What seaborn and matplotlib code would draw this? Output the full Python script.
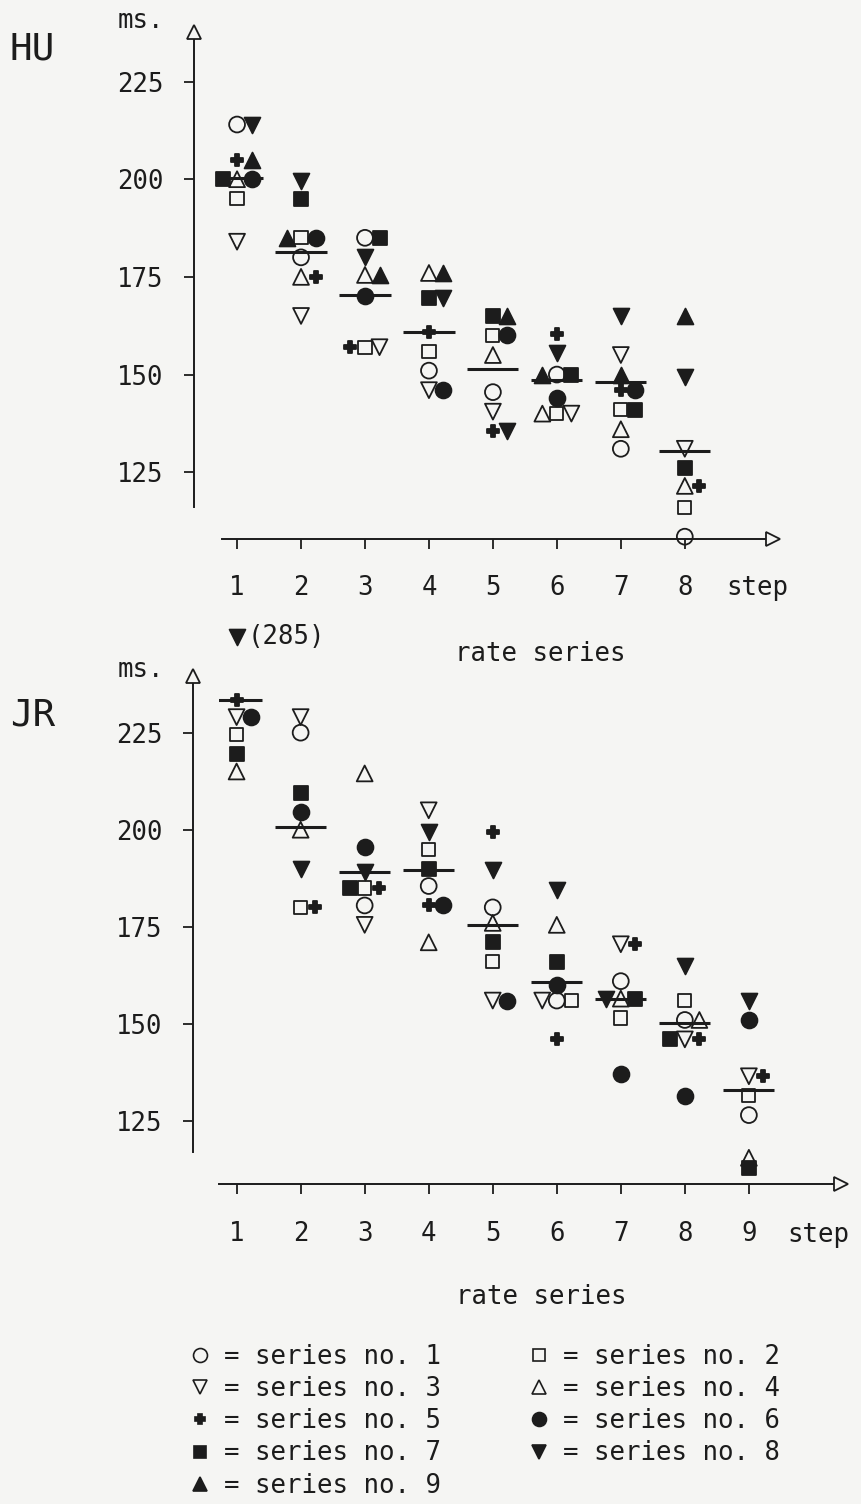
import numpy as np
import pandas as pd
import matplotlib
matplotlib.use("Agg")
import matplotlib.pyplot as plt
from matplotlib.lines import Line2D
import seaborn as sns

# ---------------- data: durations in ms per step of each rate series ----------------
series_ids = [1, 2, 3, 4, 5, 6, 7, 8, 9]

hu_steps = [1, 2, 3, 4, 5, 6, 7, 8]
hu_s1 = [214, 180, 185, 151, 145.5, 150, 131, 108.5]
hu_s2 = [195, 185, 157, 156, 160, 140, 141, 116]
hu_s3 = [184, 165, 157, 146, 140.5, 140, 155, 131]
hu_s4 = [200, 175, 175.5, 176, 155, 140, 136, 121.5]
hu_s5 = [205, 175, 157, 161, 135.5, 160.5, 146, 121.5]
hu_s6 = [200, 185, 170, 146, 160, 144, 146, None]
hu_s7 = [200, 195, 185, 169.5, 165, 150, 141, 126]
hu_s8 = [214, 199.5, 180, 169.5, 135.5, 155.5, 165, 149.5]
hu_s9 = [205, 185, 175.5, 176, 165, 150, 150, 165]
hu_means = [200.2, 181.3, 170.4, 160.9, 151.3, 148.5, 148.0, 130.4]

jr_steps = [1, 2, 3, 4, 5, 6, 7, 8, 9]
jr_s1 = [None, 225, 180.5, 185.5, 180, 156, 161, 151, 126.5]
jr_s2 = [224.5, 180, 185, 195, 166, 156, 151.5, 156, 131.5]
jr_s3 = [229, 229, 175.5, 205, 156, 156, 170.5, 146, 136.5]
jr_s4 = [215, 200, 214.5, 171, 176, 175.5, 156.5, 151, 115.5]
jr_s5 = [233.5, 180, 185, 180.5, 199.5, 146, 170.5, 146, 136.5]
jr_s6 = [229, 204.5, 195.5, 180.5, 156, 160, 137, 131.5, 151]
jr_s7 = [219.5, 209.5, 185, 190, 171, 166, 156.5, 146, 113]
jr_s8 = [285, 190, 189, 199.5, 189.5, 184.5, 156.5, 165, 156]
jr_s9 = [None] * 9
jr_means = [233.4, 200.6, 189.0, 189.6, 175.4, 160.8, 156.5, 150.1, 132.9]

y_ticks = [125, 150, 175, 200, 225]
legend_order = [1, 3, 5, 7, 9, 2, 4, 6, 8]

# ---------------- styling ----------------
INK = "#1c1c1c"
BG = "#f5f5f3"
MARKERS = {1: ("o", False), 2: ("s", False), 3: ("v", False), 4: ("^", False),
           5: ("P", True), 6: ("o", True), 7: ("s", True), 8: ("v", True),
           9: ("^", True)}
SIZES = {"o": 130, "s": 90, "v": 130, "^": 130, "P": 80}
DODGE = 0.227              # horizontal spacing of tied values, in steps
SLOTS = [0, 1, -1, 2, -2]  # placement order of tied values
MEAN_HALF = 0.40
FS = 18.5

sns.set_style("ticks")
plt.rcParams["font.family"] = ["DejaVu Sans Mono"]
plt.rcParams["text.color"] = INK
plt.rcParams["axes.edgecolor"] = INK
plt.rcParams["xtick.color"] = INK
plt.rcParams["ytick.color"] = INK


def long_table(steps, cols):
    rows = []
    for sid, vals in zip(series_ids, cols):
        for st, v in zip(steps, vals):
            if v is not None:
                rows.append({"step": st, "series": sid, "value": float(v)})
    df = pd.DataFrame(rows)
    # spread tied values side by side
    df["slot"] = 0
    for (_, _), g in df.groupby(["step", "value"]):
        for k, idx in enumerate(g.sort_values("series").index):
            df.loc[idx, "slot"] = SLOTS[k]
    df["x"] = df["step"] + df["slot"] * DODGE
    return df


hu = long_table(hu_steps, [hu_s1, hu_s2, hu_s3, hu_s4, hu_s5, hu_s6, hu_s7, hu_s8, hu_s9])
jr = long_table(jr_steps, [jr_s1, jr_s2, jr_s3, jr_s4, jr_s5, jr_s6, jr_s7, jr_s8, jr_s9])

fig = plt.figure(figsize=(8.61, 15.04), dpi=100)
fig.patch.set_facecolor(BG)
FW, FH = 861, 1504

ax_hu = fig.add_axes([0.2575, 0.6629, 0.6322, 0.3112])
ax_jr = fig.add_axes([0.2547, 0.2338, 0.7140, 0.3121])


def draw_panel(ax, df, steps, means, xlim, ylim, offscale_y):
    ax.set_facecolor("none")
    ax.set_xlim(*xlim)
    ax.set_ylim(*ylim)
    df = df.copy()
    df["y"] = np.where(df["value"] > ylim[1], offscale_y, df["value"])
    for sid in series_ids:
        sub = df[df["series"] == sid]
        if sub.empty:
            continue
        m, filled = MARKERS[sid]
        sns.scatterplot(data=sub, x="x", y="y", ax=ax, marker=m, s=SIZES[m],
                        facecolor=INK if filled else "none", edgecolor=INK,
                        linewidth=1.3, clip_on=False, legend=False, zorder=3)
    st = np.asarray(steps, dtype=float)
    ax.hlines(means, st - MEAN_HALF, st + MEAN_HALF, color=INK, lw=2.2, zorder=4)
    # out-of-range values get their number written beside the marker
    for _, r in df[df["value"] > ylim[1]].iterrows():
        ax.annotate(f"({r['value']:.0f})", (r["x"], r["y"]), xytext=(8, 0),
                    textcoords="offset points", va="center", ha="left",
                    fontsize=FS, annotation_clip=False)
    ax.set_xticks(steps)
    ax.set_xticklabels([str(s) for s in steps])
    ax.set_yticks(y_ticks)
    ax.set_yticklabels([str(t) for t in y_ticks])
    ax.set_xlabel("")
    ax.set_ylabel("")
    ax.tick_params(axis="both", length=7.2, width=1.3, labelsize=FS)
    ax.tick_params(axis="x", pad=19)
    ax.tick_params(axis="y", pad=15)


def detach_spines(ax, left_px, bottom_px):
    sns.despine(ax=ax)
    pos = ax.get_position()
    w_px, h_px = pos.width * FW, pos.height * FH
    xl, yb = -left_px / w_px, -bottom_px / h_px
    ax.spines["left"].set_position(("axes", xl))
    ax.spines["bottom"].set_position(("axes", yb))
    for s in ("left", "bottom"):
        ax.spines[s].set_linewidth(1.4)
    arrow = dict(ms=10, mfc=BG, mec=INK, mew=1.3, clip_on=False,
                 transform=ax.transAxes, zorder=5)
    ax.plot([xl], [1 + 7 / h_px], marker="^", **arrow)
    ax.plot([1 + 7 / w_px], [yb], marker=">", **arrow)


draw_panel(ax_hu, hu, hu_steps, hu_means, (0.76, 9.27), (116.1, 235.9), None)
draw_panel(ax_jr, jr, jr_steps, jr_means, (0.73, 10.33), (116.9, 237.8), 249.6)
detach_spines(ax_hu, 27.7, 32)
detach_spines(ax_jr, 26.3, 32)


def ftext(x_px, y_px, s, **kw):
    fig.text(x_px / FW, 1 - y_px / FH, s, **kw)


ftext(32, 50, "HU", fontsize=27, ha="center", va="center")
ftext(33, 716, "JR", fontsize=27, ha="center", va="center")
ftext(118, 28, "ms.", fontsize=FS, ha="left", va="baseline")
ftext(118, 677, "ms.", fontsize=FS, ha="left", va="baseline")
ftext(726, 595, "step", fontsize=FS, ha="left", va="baseline")
ftext(787, 1242, "step", fontsize=FS, ha="left", va="baseline")
ftext(540, 661, "rate series", fontsize=FS, ha="center", va="baseline")
ftext(541, 1304, "rate series", fontsize=FS, ha="center", va="baseline")

# key to the marker symbols
handles, labels = [], []
for sid in legend_order:
    m, filled = MARKERS[sid]
    handles.append(Line2D([], [], linestyle="none", marker=m,
                          markersize=np.sqrt(SIZES[m]) * 0.88,
                          markerfacecolor=INK if filled else "none",
                          markeredgecolor=INK, markeredgewidth=1.2))
    labels.append(f"= series no. {sid}")
fig.legend(handles, labels, ncol=2, loc="upper left",
           bbox_to_anchor=(187 / FW, 1 - 1344 / FH), bbox_transform=fig.transFigure,
           frameon=False, fontsize=FS, handlelength=1.0, handletextpad=0.45,
           columnspacing=3.3, labelspacing=0.24, borderpad=0, borderaxespad=0)

fig.savefig("out.png", dpi=100, facecolor=BG)
